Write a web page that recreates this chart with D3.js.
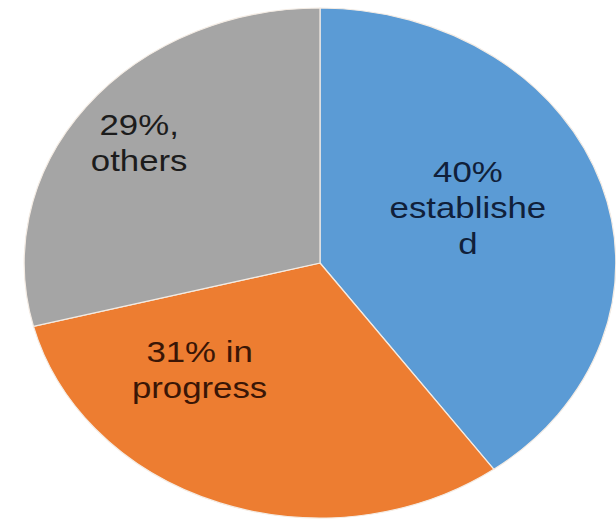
<!DOCTYPE html>
<html>
<head>
<meta charset="utf-8">
<script src="https://cdn.jsdelivr.net/npm/d3@7"></script>
<style>
  html, body { margin: 0; padding: 0; background: #fff; }
  #chart { width: 616px; height: 520px; }
</style>
</head>
<body>
<div id="chart"></div>
<script>
// Share of items by status - pie chart
const categories = ['established', 'in progress', 'others'];
const shares = [40, 31, 29];
const labelLines = [
    ['40%', 'establishe', 'd'],
    ['31% in', 'progress'],
    ['29%,', 'others']
];

// Chart dimensions (the original picture is stretched horizontally)
const width = 616;
const height = 520;
const cx = 320;
const cy = 263;
const radius = 255;
const stretchX = 1.16;

// Label placement tweaks relative to slice centroid (group coords)
const labelOffsets = [[-18, -34], [-52, -45], [-35, -34]];
const lineHeight = 36;

const colorScale = d3.scaleOrdinal()
    .domain(categories)
    .range(['#5b9bd5', '#ed7d31', '#a5a5a5']);

const textColor = d3.scaleOrdinal()
    .domain(categories)
    .range(['#10203a', '#3a1606', '#1c1c1c']);

const svg = d3.select('#chart')
    .append('svg')
    .attr('width', width)
    .attr('height', height);

const g = svg.append('g')
    .attr('transform', `translate(${cx}, ${cy}) scale(${stretchX}, 1)`);

const pie = d3.pie()
    .value(d => d.value)
    .sort(null);

const arc = d3.arc()
    .innerRadius(0)
    .outerRadius(radius);

const labelArc = d3.arc()
    .innerRadius(radius * 0.6)
    .outerRadius(radius * 0.6);

const data = categories.map((c, i) => ({ category: c, value: shares[i], lines: labelLines[i] }));
const slices = pie(data);

g.selectAll('path.slice')
    .data(slices)
    .enter()
    .append('path')
    .attr('class', 'slice')
    .attr('d', arc)
    .attr('fill', d => colorScale(d.data.category))
    .attr('stroke', '#f4ece4')
    .attr('stroke-width', 1.2)
    .attr('vector-effect', 'non-scaling-stroke');

// Slice labels
const labels = g.selectAll('text.label')
    .data(slices)
    .enter()
    .append('text')
    .attr('class', 'label')
    .attr('text-anchor', 'middle')
    .style('font-family', '"Liberation Sans", Arial, sans-serif')
    .style('font-size', '30px')
    .style('fill', d => textColor(d.data.category))
    .attr('transform', (d, i) => {
        const [x, y] = labelArc.centroid(d);
        return `translate(${x + labelOffsets[i][0]}, ${y + labelOffsets[i][1]})`;
    });

labels.selectAll('tspan')
    .data(d => d.data.lines)
    .enter()
    .append('tspan')
    .attr('x', 0)
    .attr('y', (d, i) => i * lineHeight)
    .text(d => d);
</script>
</body>
</html>
